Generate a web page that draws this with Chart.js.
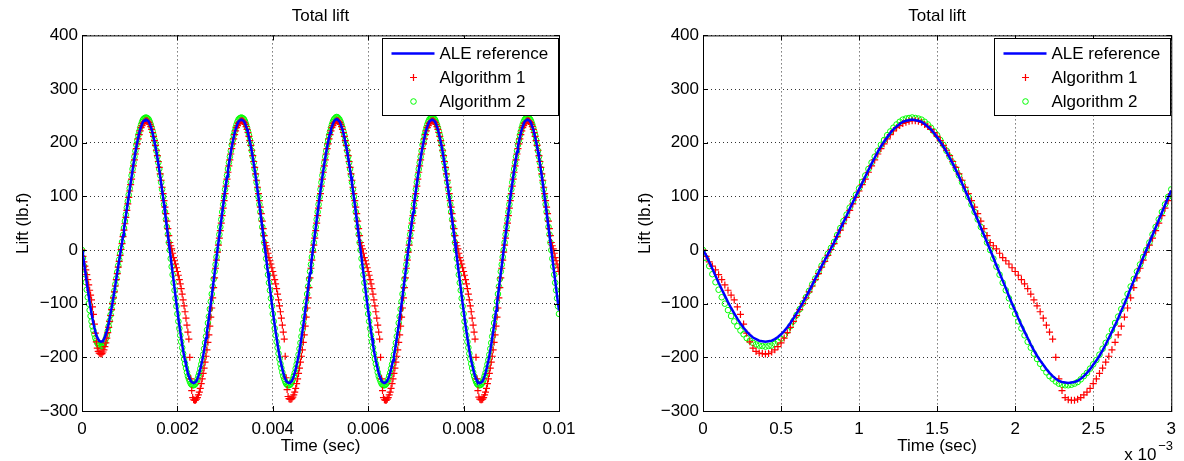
<!DOCTYPE html>
<html>
<head>
<meta charset="utf-8">
<title>Total lift</title>
<script src="https://cdn.jsdelivr.net/npm/chart.js@4.4.1/dist/chart.umd.min.js"></script>
<style>
  body { margin: 0; background: #fff; }
  .panel { position: absolute; top: 0; width: 592px; height: 461px; }
</style>
</head>
<body>
<div class="panel" style="left:0"><canvas id="leftChart"></canvas></div>
<div class="panel" style="left:592px"><canvas id="rightChart"></canvas></div>
<script>
// samples every 0.02 ms, from t = 0 to t = 0.01 s (501 samples)
const timeStep = 0.00002;

// ALE reference (lb.f)
const aleRef = [
  // 0 - 0.82 ms
  0, -10, -22, -35, -48, -61, -73, -85, -97, -108, -118, -128, -137, -145, -152, -158, -163, -166, -169, -170,
  -171, -170, -169, -166, -162, -157, -151, -144, -136, -127, -118, -108, -98, -87, -76, -65, -53, -42, -30, -19, -8, 3,
  // 0.84 - 2.82 ms
  14, 27, 40, 52, 64, 77, 89, 101, 113, 125, 137, 149, 161, 172, 183, 193, 202, 210, 218, 225, 230, 235, 239, 241, 242,
  243, 242, 241, 239, 235, 230, 225, 218, 210, 202, 193, 183, 172, 161, 149, 137, 124, 111, 98, 84, 70, 56, 42, 28, 14,
  0, -14, -29, -43, -57, -71, -86, -100, -113, -127, -140, -152, -164, -176, -187, -197, -206, -214, -222, -229, -235, -240, -244, -246, -247,
  -248, -247, -246, -244, -240, -235, -229, -222, -214, -206, -197, -187, -176, -164, -152, -140, -127, -113, -100, -86, -71, -57, -43, -29, -14,
  // 2.84 - 4.82 ms
  0, 14, 28, 42, 56, 70, 84, 98, 111, 124, 137, 149, 161, 172, 183, 193, 202, 210, 218, 225, 230, 235, 239, 241, 242,
  243, 242, 241, 239, 235, 230, 225, 218, 210, 202, 193, 183, 172, 161, 149, 137, 124, 111, 98, 84, 70, 56, 42, 28, 14,
  0, -14, -29, -43, -57, -71, -86, -100, -113, -127, -140, -152, -164, -176, -187, -197, -206, -214, -222, -229, -235, -240, -244, -246, -247,
  -248, -247, -246, -244, -240, -235, -229, -222, -214, -206, -197, -187, -176, -164, -152, -140, -127, -113, -100, -86, -71, -57, -43, -29, -14,
  // 4.84 - 6.82 ms
  0, 14, 28, 42, 56, 70, 84, 98, 111, 124, 137, 149, 161, 172, 183, 193, 202, 210, 218, 225, 230, 235, 239, 242, 243,
  244, 243, 241, 239, 235, 230, 225, 218, 210, 202, 193, 183, 172, 161, 149, 137, 124, 111, 98, 84, 70, 56, 42, 28, 14,
  0, -14, -29, -43, -57, -71, -86, -100, -113, -127, -140, -152, -164, -176, -187, -197, -206, -214, -222, -229, -235, -240, -244, -246, -247,
  -248, -247, -246, -244, -240, -235, -229, -222, -214, -206, -197, -187, -176, -164, -152, -140, -127, -113, -100, -86, -71, -57, -43, -29, -14,
  // 6.84 - 8.82 ms
  0, 14, 28, 42, 56, 70, 84, 98, 111, 124, 137, 149, 161, 172, 183, 193, 202, 210, 218, 225, 230, 235, 239, 241, 242,
  243, 242, 241, 239, 235, 230, 225, 218, 210, 202, 193, 183, 172, 161, 149, 137, 124, 111, 98, 84, 70, 56, 42, 28, 14,
  0, -14, -29, -43, -57, -71, -86, -100, -113, -127, -140, -152, -164, -176, -187, -197, -206, -214, -222, -229, -235, -240, -244, -246, -247,
  -248, -247, -246, -244, -240, -235, -229, -222, -214, -206, -197, -187, -176, -164, -152, -140, -127, -113, -100, -86, -71, -57, -43, -29, -14,
  // 8.84 - 10.00 ms
  0, 14, 28, 42, 56, 70, 84, 98, 111, 124, 137, 149, 161, 172, 183, 193, 202, 210, 218, 225, 230, 235, 239, 241, 242,
  243, 242, 241, 239, 235, 230, 225, 218, 210, 202, 193, 183, 172, 161, 149, 137, 124, 111, 98, 84, 70, 56, 42, 28, 14,
  0, -14, -29, -43, -57, -71, -86, -100, -113
];

// Algorithm 1
const algorithm1 = [
  0, -12, -22, -30, -37, -46, -55, -65, -75, -84, -93, -106, -120, -138, -155, -171, -183, -189, -192, -193,
  -194, -193, -190, -186, -180, -173, -164, -154, -144, -133, -122, -111, -100, -89, -78, -67, -55, -44, -32, -21, -10, 1,
  12, 25, 37, 49, 61, 74, 86, 98, 110, 122, 132, 145, 157, 168, 179, 189, 198, 207, 215, 222, 228, 232, 236, 238, 240,
  241, 241, 240, 238, 234, 230, 225, 219, 212, 204, 195, 186, 176, 165, 154, 142, 130, 117, 105, 92, 80, 68, 54, 40, 27,
  14, 8, 2, -6, -14, -20, -26, -33, -40, -47, -55, -63, -72, -82, -93, -104, -115, -127, -140, -153, -166, -200, -240, -262, -275,
  -279, -280, -280, -278, -275, -270, -265, -258, -249, -240, -230, -220, -209, -198, -186, -172, -158, -142, -125, -108, -89, -70, -52, -34, -19,
  -4, 9, 22, 36, 50, 64, 78, 92, 105, 119, 132, 145, 157, 168, 179, 189, 198, 207, 215, 222, 228, 232, 236, 238, 240,
  241, 241, 240, 238, 234, 230, 225, 219, 212, 204, 195, 186, 176, 165, 154, 142, 130, 117, 105, 92, 80, 68, 54, 40, 27,
  14, 8, 2, -6, -14, -20, -26, -33, -40, -47, -55, -63, -72, -82, -93, -104, -115, -127, -140, -153, -166, -198, -238, -260, -273,
  -277, -278, -278, -277, -274, -270, -265, -258, -249, -240, -230, -220, -209, -198, -186, -172, -158, -142, -125, -108, -89, -70, -52, -34, -19,
  -4, 9, 22, 36, 50, 64, 78, 92, 105, 119, 132, 145, 157, 168, 179, 189, 198, 207, 215, 222, 228, 232, 236, 238, 240,
  241, 241, 240, 238, 234, 230, 225, 219, 212, 204, 195, 186, 176, 165, 154, 142, 130, 117, 105, 92, 80, 68, 54, 40, 27,
  14, 8, 2, -6, -14, -20, -26, -33, -40, -47, -55, -63, -72, -82, -93, -104, -115, -127, -140, -153, -166, -200, -240, -262, -275,
  -279, -280, -280, -278, -275, -270, -265, -258, -249, -240, -230, -220, -209, -198, -186, -172, -158, -142, -125, -108, -89, -70, -52, -34, -19,
  -4, 9, 22, 36, 50, 64, 78, 92, 105, 119, 132, 145, 157, 168, 179, 189, 198, 207, 215, 222, 228, 232, 236, 238, 240,
  241, 241, 240, 238, 234, 230, 225, 219, 212, 204, 195, 186, 176, 165, 154, 142, 130, 117, 105, 92, 80, 68, 54, 40, 27,
  14, 8, 2, -6, -14, -20, -26, -33, -40, -47, -55, -63, -72, -82, -93, -104, -115, -127, -140, -153, -166, -200, -240, -262, -274,
  -278, -279, -279, -278, -275, -270, -265, -258, -249, -240, -230, -220, -209, -198, -186, -172, -158, -142, -125, -108, -89, -70, -52, -34, -19,
  -4, 9, 22, 36, 50, 64, 78, 92, 105, 119, 132, 145, 157, 168, 179, 189, 198, 207, 215, 222, 228, 232, 236, 238, 240,
  241, 241, 240, 238, 234, 230, 225, 219, 212, 204, 195, 186, 176, 165, 154, 142, 130, 117, 105, 92, 80, 68, 54, 40, 27,
  14, 8, 2, -6, -14, -20, -26, -33, -40
];

// Algorithm 2
const algorithm2 = [
  0, -15, -30, -45, -60, -74, -88, -100, -112, -123, -133, -142, -150, -157, -164, -169, -173, -176, -178, -179,
  -180, -179, -178, -175, -171, -165, -159, -151, -142, -132, -121, -110, -99, -88, -76, -64, -53, -41, -29, -18, -7, 4,
  15, 28, 41, 54, 66, 79, 91, 103, 115, 127, 139, 151, 163, 174, 185, 196, 205, 214, 221, 228, 234, 239, 243, 245, 246,
  247, 246, 245, 243, 239, 234, 228, 221, 214, 205, 196, 185, 174, 163, 151, 139, 126, 113, 99, 85, 71, 57, 43, 29, 14,
  0, -16, -31, -46, -61, -75, -90, -105, -119, -133, -146, -159, -171, -182, -193, -203, -212, -220, -228, -235, -240, -245, -249, -251, -252,
  -252, -251, -249, -246, -241, -235, -229, -221, -213, -205, -195, -184, -173, -161, -149, -136, -124, -110, -96, -82, -68, -54, -40, -27, -13,
  0, 14, 29, 43, 57, 71, 85, 99, 113, 126, 139, 151, 163, 174, 185, 196, 205, 214, 221, 228, 234, 239, 243, 245, 246,
  247, 246, 245, 243, 239, 234, 228, 221, 214, 205, 196, 185, 174, 163, 151, 139, 126, 113, 99, 85, 71, 57, 43, 29, 14,
  0, -16, -31, -46, -61, -75, -90, -105, -119, -133, -146, -159, -171, -182, -193, -203, -212, -220, -228, -235, -240, -245, -249, -251, -252,
  -252, -251, -249, -246, -241, -235, -229, -221, -213, -205, -195, -184, -173, -161, -149, -136, -124, -110, -96, -82, -68, -54, -40, -27, -13,
  0, 14, 29, 43, 57, 71, 85, 99, 113, 126, 139, 151, 163, 174, 185, 196, 205, 214, 221, 228, 234, 239, 243, 245, 247,
  248, 247, 245, 243, 239, 234, 228, 221, 214, 205, 196, 185, 174, 163, 151, 139, 126, 113, 99, 85, 71, 57, 43, 29, 14,
  0, -16, -31, -46, -61, -75, -90, -105, -119, -133, -146, -159, -171, -182, -193, -203, -212, -220, -228, -235, -240, -245, -249, -251, -252,
  -252, -251, -249, -246, -241, -235, -229, -221, -213, -205, -195, -184, -173, -161, -149, -136, -124, -110, -96, -82, -68, -54, -40, -27, -13,
  0, 14, 29, 43, 57, 71, 85, 99, 113, 126, 139, 151, 163, 174, 185, 196, 205, 214, 221, 228, 234, 239, 243, 245, 246,
  247, 246, 245, 243, 239, 234, 228, 221, 214, 205, 196, 185, 174, 163, 151, 139, 126, 113, 99, 85, 71, 57, 43, 29, 14,
  0, -16, -31, -46, -61, -75, -90, -105, -119, -133, -146, -159, -171, -182, -193, -203, -212, -220, -228, -235, -240, -245, -249, -251, -252,
  -252, -251, -249, -246, -241, -235, -229, -221, -213, -205, -195, -184, -173, -161, -149, -136, -124, -110, -96, -82, -68, -54, -40, -27, -13,
  0, 14, 29, 43, 57, 71, 85, 99, 113, 126, 139, 151, 163, 174, 185, 196, 205, 214, 221, 228, 234, 239, 243, 245, 246,
  247, 246, 245, 243, 239, 234, 228, 221, 214, 205, 196, 185, 174, 163, 151, 139, 126, 113, 99, 85, 71, 57, 43, 29, 14,
  0, -16, -31, -46, -61, -75, -90, -105, -119
];

const seriesNames = ['ALE reference', 'Algorithm 1', 'Algorithm 2'];

// axis ticks
const yTicks = [-300, -200, -100, 0, 100, 200, 300, 400];
const yLabels = ['\u2212300', '\u2212200', '\u2212100', '0', '100', '200', '300', '400'];
const leftXTicks = [0, 0.002, 0.004, 0.006, 0.008, 0.01];
const leftXLabels = ['0', '0.002', '0.004', '0.006', '0.008', '0.01'];
const rightXTicks = [0, 0.0005, 0.001, 0.0015, 0.002, 0.0025, 0.003];
const rightXLabels = ['0', '0.5', '1', '1.5', '2', '2.5', '3'];

const FONT = "'Liberation Sans', Arial, Helvetica, sans-serif";

function toPoints(values) {
  return values.map((v, i) => ({ x: i * timeStep, y: v }));
}

// box + inward tick marks, matlab style
const framePlugin = {
  id: 'frame',
  afterDraw(chart) {
    const { ctx, chartArea: a, scales } = chart;
    ctx.save();
    ctx.strokeStyle = '#000';
    ctx.lineWidth = 1;
    ctx.strokeRect(a.left + 0.5, a.top + 0.5, a.width, a.height);
    ctx.beginPath();
    scales.x.ticks.forEach(t => {
      const px = Math.round(scales.x.getPixelForValue(t.value)) + 0.5;
      ctx.moveTo(px, a.bottom); ctx.lineTo(px, a.bottom - 5);
      ctx.moveTo(px, a.top); ctx.lineTo(px, a.top + 5);
    });
    scales.y.ticks.forEach(t => {
      const py = Math.round(scales.y.getPixelForValue(t.value)) + 0.5;
      ctx.moveTo(a.left, py); ctx.lineTo(a.left + 5, py);
      ctx.moveTo(a.right, py); ctx.lineTo(a.right - 5, py);
    });
    ctx.stroke();
    ctx.restore();
  }
};

// legend box in the upper right corner
const boxLegend = {
  id: 'boxLegend',
  afterDraw(chart) {
    const { ctx, chartArea: a } = chart;
    const w = 176, h = 77;
    const x0 = Math.round(a.right - w - 1) + 0.5, y0 = Math.round(a.top + 3) + 0.5;
    ctx.save();
    ctx.fillStyle = '#fff';
    ctx.fillRect(x0, y0, w, h);
    ctx.strokeStyle = '#000';
    ctx.lineWidth = 1;
    ctx.strokeRect(x0, y0, w, h);
    const rows = [y0 + 15, y0 + 39, y0 + 63];
    // line sample
    ctx.strokeStyle = '#0000ff';
    ctx.lineWidth = 2.5;
    ctx.beginPath();
    ctx.moveTo(x0 + 9, rows[0]); ctx.lineTo(x0 + 52, rows[0]);
    ctx.stroke();
    // cross
    ctx.strokeStyle = '#ff0000';
    ctx.lineWidth = 1.2;
    ctx.beginPath();
    ctx.moveTo(x0 + 27.5, rows[1]); ctx.lineTo(x0 + 34.5, rows[1]);
    ctx.moveTo(x0 + 31, rows[1] - 3.5); ctx.lineTo(x0 + 31, rows[1] + 3.5);
    ctx.stroke();
    // circle
    ctx.strokeStyle = '#00ff00';
    ctx.lineWidth = 1;
    ctx.beginPath();
    ctx.arc(x0 + 31, rows[2], 2.8, 0, Math.PI * 2);
    ctx.stroke();
    ctx.fillStyle = '#000';
    ctx.font = '17px ' + FONT;
    ctx.textBaseline = 'middle';
    ctx.textAlign = 'left';
    seriesNames.forEach((n, i) => ctx.fillText(n, x0 + 57, rows[i] + 1));
    ctx.restore();
  }
};

// "x 10^-3" under the right axis
const exponentLabel = {
  id: 'exponentLabel',
  afterDraw(chart) {
    if (!chart.options.showExponent) return;
    const { ctx, chartArea: a } = chart;
    ctx.save();
    ctx.fillStyle = '#000';
    ctx.textBaseline = 'alphabetic';
    ctx.textAlign = 'left';
    ctx.font = '17px ' + FONT;
    ctx.fillText('x 10', a.right - 47, 460);
    ctx.font = '13px ' + FONT;
    ctx.fillText('\u22123', a.right - 13, 450);
    ctx.restore();
  }
};

function makeChart(id, cfg) {
  const tickFont = { family: FONT, size: 17 };
  return new Chart(document.getElementById(id), {
    type: 'scatter',
    data: {
      datasets: [
        {
          label: seriesNames[0],
          data: toPoints(aleRef),
          showLine: true,
          borderColor: '#0000ff',
          borderWidth: 2.5,
          pointRadius: 0,
          tension: 0
        },
        {
          label: seriesNames[1],
          data: toPoints(algorithm1),
          pointStyle: 'cross',
          pointRadius: 3.5,
          borderColor: '#ff0000',
          backgroundColor: '#ff0000',
          borderWidth: 1.2
        },
        {
          label: seriesNames[2],
          data: toPoints(algorithm2),
          pointStyle: 'circle',
          pointRadius: 2.8,
          borderColor: '#00ff00',
          backgroundColor: 'rgba(0,0,0,0)',
          borderWidth: 1
        }
      ]
    },
    options: {
      responsive: true,
      maintainAspectRatio: false,
      animation: false,
      showExponent: cfg.showExponent,
      layout: { padding: { left: 0, right: cfg.padRight, top: 0, bottom: 0 } },
      plugins: {
        legend: { display: false },
        tooltip: { enabled: false },
        title: {
          display: true,
          text: 'Total lift',
          fullSize: false,
          color: '#000',
          font: { family: FONT, size: 17, weight: 'normal' },
          padding: { top: 6, bottom: 9 }
        }
      },
      scales: {
        x: {
          type: 'linear',
          min: 0,
          max: cfg.xMax,
          afterBuildTicks: s => { s.ticks = cfg.xTicks.map(v => ({ value: v })); },
          afterFit: s => { s.height = 50; },
          ticks: {
            autoSkip: false,
            maxRotation: 0,
            padding: 8,
            color: '#000',
            font: tickFont,
            callback: (v, i) => cfg.xLabels[i]
          },
          grid: { color: '#333', lineWidth: 1, drawTicks: false },
          border: { display: false, dash: [1, 3] },
          title: {
            display: true,
            text: 'Time (sec)',
            color: '#000',
            font: tickFont,
            padding: { top: 0, bottom: 4 }
          }
        },
        y: {
          min: -300,
          max: 400,
          afterBuildTicks: s => { s.ticks = yTicks.map(v => ({ value: v })); },
          afterFit: s => { s.width = cfg.yWidth; },
          ticks: {
            padding: 4,
            color: '#000',
            font: tickFont,
            callback: (v, i) => yLabels[i]
          },
          grid: { color: '#333', lineWidth: 1, drawTicks: false },
          border: { display: false, dash: [1, 3] },
          title: {
            display: true,
            text: 'Lift (lb.f)',
            color: '#000',
            font: tickFont,
            padding: { top: cfg.yTitlePad, bottom: 0 }
          }
        }
      }
    },
    plugins: [framePlugin, boxLegend, exponentLabel]
  });
}

makeChart('leftChart', {
  xMax: 0.01, xTicks: leftXTicks, xLabels: leftXLabels,
  yWidth: 82, padRight: 33, yTitlePad: 13, showExponent: false
});
makeChart('rightChart', {
  xMax: 0.003, xTicks: rightXTicks, xLabels: rightXLabels,
  yWidth: 111, padRight: 4, yTitlePad: 43, showExponent: true
});
</script>
</body>
</html>
